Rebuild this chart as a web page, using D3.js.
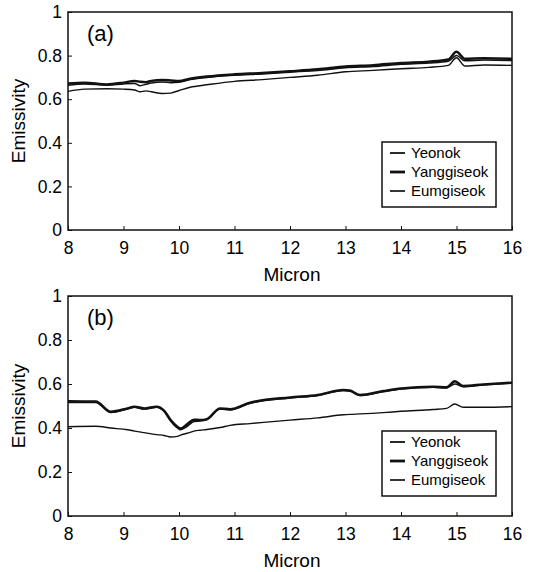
<!DOCTYPE html>
<html>
<head>
<meta charset="utf-8">
<script src="https://cdn.jsdelivr.net/npm/d3@7"></script>
<style>
  body { margin: 0; background: #fff; }
  text { font-family: "Liberation Sans", Arial, sans-serif; fill: #000; }
</style>
</head>
<body>
<script>
// panel (a)
const micronA = [8.0, 8.3, 8.7, 9.0, 9.2, 9.3, 9.4, 9.5, 9.7, 9.85, 10.0, 10.2, 10.5, 11.0, 11.5, 12.0, 12.5, 13.0, 13.5, 14.0, 14.5, 14.85, 15.0, 15.15, 15.5, 16.0];
const yeonokA = [0.664, 0.670, 0.664, 0.670, 0.672, 0.662, 0.668, 0.674, 0.679, 0.676, 0.678, 0.690, 0.700, 0.710, 0.716, 0.724, 0.732, 0.744, 0.750, 0.760, 0.766, 0.774, 0.800, 0.776, 0.780, 0.777];
const yanggiA = [0.672, 0.676, 0.668, 0.676, 0.684, 0.680, 0.678, 0.684, 0.688, 0.686, 0.683, 0.694, 0.704, 0.714, 0.720, 0.728, 0.737, 0.750, 0.756, 0.766, 0.772, 0.782, 0.818, 0.785, 0.788, 0.785];
const eumgiA = [0.636, 0.646, 0.648, 0.646, 0.642, 0.634, 0.638, 0.634, 0.626, 0.628, 0.640, 0.655, 0.666, 0.682, 0.690, 0.700, 0.710, 0.726, 0.732, 0.740, 0.746, 0.755, 0.790, 0.752, 0.757, 0.755];

// panel (b)
const micronB = [8.0, 8.5, 8.77, 9.07, 9.2, 9.37, 9.6, 9.73, 9.85, 9.97, 10.03, 10.15, 10.27, 10.38, 10.5, 10.74, 10.92, 11.28, 12.0, 12.5, 12.96, 13.08, 13.26, 13.68, 14.0, 14.58, 14.82, 14.97, 15.12, 15.48, 16.0];
const yeonokB = [0.516, 0.516, 0.470, 0.486, 0.494, 0.486, 0.494, 0.476, 0.432, 0.400, 0.392, 0.408, 0.430, 0.432, 0.438, 0.486, 0.482, 0.512, 0.536, 0.548, 0.570, 0.567, 0.548, 0.565, 0.577, 0.585, 0.582, 0.600, 0.588, 0.596, 0.604];
const yanggiB = [0.522, 0.520, 0.474, 0.489, 0.497, 0.489, 0.497, 0.479, 0.436, 0.406, 0.398, 0.418, 0.438, 0.436, 0.440, 0.489, 0.485, 0.515, 0.539, 0.550, 0.573, 0.570, 0.550, 0.568, 0.580, 0.588, 0.585, 0.612, 0.591, 0.598, 0.606];
const eumgiB = [0.406, 0.408, 0.400, 0.392, 0.386, 0.379, 0.370, 0.366, 0.359, 0.362, 0.368, 0.376, 0.386, 0.390, 0.393, 0.402, 0.412, 0.420, 0.436, 0.446, 0.460, 0.462, 0.464, 0.470, 0.476, 0.484, 0.489, 0.509, 0.494, 0.494, 0.497];

const seriesNames = ["Yeonok", "Yanggiseok", "Eumgiseok"];
const xTicks = [8, 9, 10, 11, 12, 13, 14, 15, 16];
const yTicks = [0, 0.2, 0.4, 0.6, 0.8, 1];

const widths = { Yeonok: 1.5, Yanggiseok: 2.5, Eumgiseok: 1.4 };

const svg = d3.select("body").append("svg")
    .attr("width", 542)
    .attr("height", 572);

function drawPanel(tag, micron, vals, top, bottom, legendTop) {
    const x = d3.scaleLinear().domain([8, 16]).range([68, 512]);
    const y = d3.scaleLinear().domain([0, 1]).range([bottom, top]);
    const g = svg.append("g");

    // frame
    g.append("rect")
     .attr("x", 68).attr("y", top)
     .attr("width", 444).attr("height", bottom - top)
     .attr("fill", "none").attr("stroke", "#111").attr("stroke-width", 1.5);

    const xAxis = d3.axisBottom(x).tickValues(xTicks).tickSizeInner(-4).tickSizeOuter(0).tickPadding(6)
        .tickFormat(d3.format("d"));
    const yAxis = d3.axisLeft(y).tickValues(yTicks).tickSizeInner(-4).tickSizeOuter(0).tickPadding(6)
        .tickFormat(d => d === 0 || d === 1 ? d : d3.format(".1f")(d));

    const gx = g.append("g").attr("transform", "translate(0," + bottom + ")").call(xAxis);
    const gy = g.append("g").attr("transform", "translate(68,0)").call(yAxis);
    [gx, gy].forEach(a => {
        a.select(".domain").remove();
        a.selectAll("line").attr("stroke", "#111");
        a.selectAll("text").style("font-size", "17.5px").attr("fill", "#000");
    });
    gx.selectAll("text").attr("dy", "1.05em");

    const line = d3.line()
        .x(d => x(d[0]))
        .y(d => y(d[1]))
        .curve(d3.curveMonotoneX);

    // thin ones first, thick on top
    ["Eumgiseok", "Yeonok", "Yanggiseok"].forEach(name => {
        const v = vals[name];
        g.append("path")
         .datum(micron.map((m, i) => [m, v[i]]))
         .attr("d", line)
         .attr("fill", "none")
         .attr("stroke", "#111")
         .attr("stroke-width", widths[name]);
    });

    g.append("text")
     .attr("x", 87).attr("y", top + 29)
     .style("font-size", "22px")
     .text(tag);

    g.append("text")
     .attr("x", 292).attr("y", bottom + 51)
     .attr("text-anchor", "middle")
     .style("font-size", "19px")
     .text("Micron");

    g.append("text")
     .attr("transform", "translate(25," + ((top + bottom) / 2) + ") rotate(-90)")
     .attr("text-anchor", "middle")
     .style("font-size", "19px")
     .text("Emissivity");

    // legend
    const lg = g.append("g").attr("transform", "translate(382," + legendTop + ")");
    lg.append("rect")
      .attr("width", 114).attr("height", 65)
      .attr("fill", "#fff").attr("stroke", "#111").attr("stroke-width", 1.5);
    seriesNames.forEach((name, i) => {
        const yy = 11 + i * 19;
        lg.append("line")
          .attr("x1", 8).attr("x2", 23).attr("y1", yy).attr("y2", yy)
          .attr("stroke", "#111").attr("stroke-width", widths[name] + 0.3);
        lg.append("text")
          .attr("x", 29).attr("y", yy)
          .attr("dy", "0.35em")
          .style("font-size", "15px")
          .text(name);
    });
}

drawPanel("(a)", micronA, { Yeonok: yeonokA, Yanggiseok: yanggiA, Eumgiseok: eumgiA }, 12, 230, 142);
drawPanel("(b)", micronB, { Yeonok: yeonokB, Yanggiseok: yanggiB, Eumgiseok: eumgiB }, 296, 516, 431);
</script>
</body>
</html>
